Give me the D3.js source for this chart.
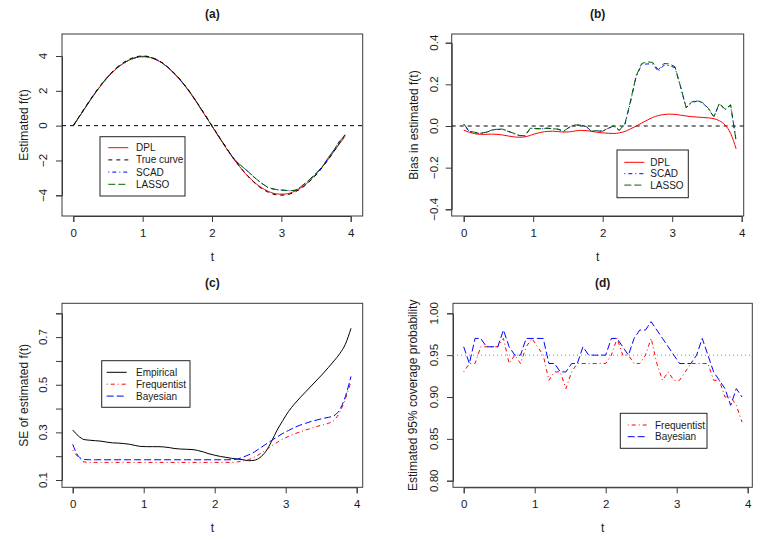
<!DOCTYPE html>
<html>
<head>
<meta charset="utf-8">
<script src="https://cdn.jsdelivr.net/npm/d3@7"></script>
<style>
  html, body { margin: 0; padding: 0; background: #fff; }
  svg { display: block; font-family: "Liberation Sans", Arial, sans-serif; }
</style>
</head>
<body>
<svg id="chart" width="762" height="541"></svg>
<script>
// ---------------- DATA ----------------
const tGrid = [0.00,0.08,0.16,0.24,0.32,0.40,0.48,0.56,0.64,0.72,0.80,0.88,0.96,1.04,1.12,1.20,1.28,1.36,1.44,1.52,
  1.60,1.68,1.76,1.84,1.92,2.00,2.08,2.16,2.24,2.32,2.40,2.48,2.56,2.64,2.72,2.80,2.88,2.96,3.04,3.12,
  3.20,3.28,3.36,3.44,3.52,3.60,3.68,3.76,3.84,3.92];

// Panel (a): estimated f(t)
const trueCurve = [0,0.50,0.99,1.47,1.93,2.35,2.74,3.08,3.38,3.62,3.80,3.93,3.99,3.99,3.93,3.80,3.62,3.38,3.08,2.74,
  2.35,1.93,1.47,0.99,0.50,0.00,-0.50,-0.99,-1.47,-1.93,-2.35,-2.74,-3.08,-3.38,-3.62,-3.80,-3.93,-3.99,-3.99,-3.93,
  -3.80,-3.62,-3.38,-3.08,-2.74,-2.35,-1.93,-1.47,-0.99,-0.50];
const dplFit = [-0.02,0.47,0.95,1.43,1.89,2.31,2.70,3.04,3.33,3.57,3.75,3.88,3.95,3.95,3.90,3.77,3.60,3.35,3.05,2.71,
  2.33,1.91,1.45,0.96,0.47,-0.03,-0.54,-1.03,-1.50,-1.96,-2.36,-2.74,-3.07,-3.35,-3.58,-3.75,-3.88,-3.93,-3.93,-3.88,
  -3.75,-3.57,-3.34,-3.04,-2.70,-2.32,-1.91,-1.47,-1.03,-0.61];
const scadFit = [0.01,0.48,0.96,1.44,1.90,2.33,2.72,3.07,3.36,3.58,3.76,3.88,3.98,3.98,3.92,3.79,3.61,3.36,3.06,2.74,
  2.36,1.94,1.47,0.97,0.48,-0.03,-0.51,-0.99,-1.49,-1.92,-2.23,-2.50,-2.79,-3.08,-3.32,-3.54,-3.64,-3.70,-3.71,-3.74,
  -3.71,-3.51,-3.26,-2.97,-2.66,-2.31,-1.82,-1.39,-0.89,-0.57];
const lassoFit = [0.01,0.48,0.96,1.44,1.90,2.33,2.73,3.07,3.36,3.58,3.76,3.88,3.98,3.98,3.92,3.79,3.61,3.36,3.06,2.74,
  2.36,1.94,1.47,0.97,0.48,-0.03,-0.51,-0.99,-1.49,-1.92,-2.23,-2.50,-2.78,-3.07,-3.32,-3.53,-3.63,-3.69,-3.71,-3.74,
  -3.71,-3.51,-3.26,-2.97,-2.66,-2.31,-1.82,-1.39,-0.89,-0.57];

// Panel (b): bias
const dplBias = [-0.020,-0.030,-0.037,-0.040,-0.040,-0.039,-0.040,-0.043,-0.048,-0.052,-0.054,-0.052,-0.045,-0.036,-0.030,
  -0.026,-0.025,-0.027,-0.029,-0.028,-0.024,-0.021,-0.022,-0.026,-0.030,-0.033,-0.035,-0.036,-0.033,-0.026,
  -0.014,-0.001,0.014,0.028,0.041,0.050,0.055,0.057,0.056,0.052,0.048,0.045,0.043,0.041,0.039,0.035,0.025,0.005,-0.035,-0.110];
const scadBias = [0.008,-0.027,-0.032,-0.036,-0.031,-0.021,-0.016,-0.016,-0.026,-0.036,-0.046,-0.048,-0.011,-0.013,-0.014,
  -0.011,-0.014,-0.016,-0.026,-0.006,0.004,0.004,-0.003,-0.026,-0.023,-0.026,-0.011,-0.001,-0.021,0.008,
  0.115,0.235,0.295,0.298,0.298,0.262,0.292,0.290,0.280,0.188,0.088,0.112,0.120,0.110,0.083,0.043,0.108,0.078,0.100,-0.072];
const lassoBias = [0.010,-0.025,-0.030,-0.035,-0.030,-0.020,-0.015,-0.015,-0.025,-0.035,-0.045,-0.047,-0.010,-0.012,-0.013,
  -0.010,-0.013,-0.015,-0.025,-0.005,0.005,0.005,-0.002,-0.025,-0.022,-0.025,-0.010,0.000,-0.020,0.010,
  0.120,0.240,0.300,0.308,0.305,0.270,0.300,0.298,0.285,0.190,0.090,0.115,0.122,0.112,0.085,0.045,0.110,0.080,0.102,-0.070];

// Panel (c): standard errors
const seEmpirical = [0.310,0.285,0.270,0.267,0.265,0.263,0.259,0.256,0.255,0.253,0.250,0.245,0.241,0.240,0.240,
  0.240,0.239,0.236,0.232,0.230,0.229,0.228,0.224,0.218,0.210,0.204,0.199,0.195,0.191,0.188,
  0.185,0.181,0.183,0.195,0.220,0.262,0.310,0.350,0.388,0.418,0.445,0.470,0.495,0.520,0.545,0.572,0.600,0.630,0.670,0.737];
const seFrequentist = [0.225,0.195,0.176,0.174,0.174,0.174,0.174,0.174,0.174,0.174,0.174,0.174,0.174,0.174,0.174,
  0.174,0.174,0.174,0.174,0.174,0.174,0.174,0.174,0.174,0.174,0.174,0.174,0.174,0.174,0.176,
  0.180,0.186,0.196,0.210,0.226,0.243,0.258,0.272,0.283,0.293,0.302,0.310,0.317,0.325,0.331,0.338,0.350,0.385,0.440,0.515];
const seBayesian = [0.250,0.200,0.186,0.185,0.185,0.185,0.185,0.185,0.185,0.185,0.185,0.185,0.185,0.185,0.185,
  0.185,0.185,0.185,0.185,0.185,0.185,0.185,0.185,0.185,0.185,0.185,0.185,0.185,0.185,0.188,
  0.196,0.206,0.218,0.234,0.250,0.266,0.281,0.296,0.308,0.320,0.330,0.338,0.346,0.352,0.358,0.363,0.370,0.395,0.450,0.535];

// Panel (d): coverage
const covFrequentist = [0.93,0.94,0.94,0.96,0.96,0.96,0.96,0.97,0.94,0.95,0.94,0.96,0.97,0.96,0.95,0.92,0.93,0.93,0.91,0.93,
  0.94,0.94,0.94,0.94,0.94,0.94,0.95,0.97,0.95,0.95,0.94,0.94,0.95,0.97,0.94,0.92,0.93,0.92,0.92,0.93,
  0.94,0.94,0.94,0.94,0.92,0.92,0.90,0.90,0.89,0.87];
const covBayesian = [0.96,0.94,0.97,0.97,0.96,0.96,0.96,0.98,0.96,0.95,0.95,0.97,0.97,0.97,0.97,0.94,0.94,0.93,0.93,0.94,
  0.94,0.96,0.95,0.95,0.95,0.95,0.97,0.97,0.96,0.95,0.97,0.98,0.98,0.99,0.98,0.97,0.96,0.95,0.94,0.94,
  0.94,0.95,0.97,0.95,0.93,0.92,0.91,0.89,0.91,0.90];

const ticksA = [-4,-2,0,2,4];
const ticksB = [-0.4,-0.2,0.0,0.2,0.4];
const ticksC = [0.1,0.2,0.3,0.4,0.5,0.6,0.7,0.8];
const labelsC = [0.1,0.3,0.5,0.7];
const ticksD = [0.80,0.85,0.90,0.95,1.00];
const ticksX = [0,1,2,3,4];

// ---------------- DRAWING ----------------
const svg = d3.select("#chart");
const FONT = 11.5;
const LEGFONT = 10;
const TXT = "#1a1a1a";
const AX = "#3a3a3a";

const dashes = { solid: null, dashed: "4,4", dotdash: "1,3,4,3", longdash: "7,3", dotted: "1,3" };

function panel(cfg) {
  const g = svg.append("g");
  const [L, T, R, B] = cfg.box;
  const x = d3.scaleLinear().domain([0, 4]).range([cfg.x0, cfg.x4]);
  const y = d3.scaleLinear().domain(cfg.yDom).range(cfg.yRange);

  const cid = "clip" + cfg.id;
  svg.append("clipPath").attr("id", cid).append("rect")
    .attr("x", L).attr("y", T).attr("width", R - L).attr("height", B - T);

  const xa = d3.axisBottom(x).tickValues(ticksX).tickFormat(d3.format("d")).tickSize(6).tickPadding(3);
  const gx = g.append("g").attr("transform", `translate(0,${B})`).call(xa);
  gx.select(".domain").attr("stroke", AX);
  gx.selectAll(".tick line").attr("stroke", AX);
  gx.selectAll("text").attr("font-size", FONT).attr("fill", TXT).attr("font-family", "Liberation Sans, Arial, sans-serif")
    .attr("dy", null).attr("y", 21);

  const ya = d3.axisLeft(y).tickValues(cfg.yTicks).tickSize(6).tickFormat("");
  const gy = g.append("g").attr("transform", `translate(${L},0)`).call(ya);
  gy.select(".domain").attr("stroke", AX);
  gy.selectAll(".tick line").attr("stroke", AX);

  g.selectAll(".ylab").data(cfg.yLabels).join("text")
    .attr("transform", d => `translate(${L - cfg.yLabOff},${y(d)}) rotate(-90)`)
    .attr("text-anchor", "middle").attr("dy", "0.35em")
    .attr("font-size", FONT).attr("fill", TXT)
    .text(d => cfg.fmt(d));

  g.append("rect").attr("x", L).attr("y", T).attr("width", R - L).attr("height", B - T)
    .attr("fill", "none").attr("stroke", AX).attr("stroke-width", 1);

  g.append("text").attr("x", (L + R) / 2).attr("y", T - 16).attr("text-anchor", "middle")
    .attr("font-size", 12).attr("font-weight", "bold").attr("fill", TXT).text(cfg.title);
  g.append("text").attr("x", (L + R) / 2).attr("y", B + 45).attr("text-anchor", "middle")
    .attr("font-size", FONT + 0.5).attr("fill", TXT).text("t");
  g.append("text")
    .attr("transform", `translate(${L - cfg.yTitleOff},${(T + B) / 2}) rotate(-90)`)
    .attr("text-anchor", "middle").attr("dy", "0.35em")
    .attr("font-size", FONT + 0.5).attr("fill", TXT).text(cfg.yTitle);

  const plot = g.append("g").attr("clip-path", `url(#${cid})`);

  if (cfg.ref) {
    plot.append("line").attr("x1", L).attr("x2", R).attr("y1", y(cfg.ref.v)).attr("y2", y(cfg.ref.v))
      .attr("stroke", cfg.ref.color).attr("stroke-width", 1).attr("stroke-dasharray", dashes[cfg.ref.dash]);
  }

  const line = d3.line().x((d, i) => x(tGrid[i])).y(d => y(d));
  const curveLine = d3.line().x((d, i) => x(tGrid[i])).y(d => y(d)).curve(d3.curveMonotoneX);
  cfg.series.forEach(s => {
    plot.append("path").datum(s.values)
      .attr("d", s.smooth ? curveLine : line)
      .attr("fill", "none").attr("stroke", s.color).attr("stroke-width", s.width || 1)
      .attr("stroke-dasharray", dashes[s.dash]);
  });

  const lg = cfg.legend;
  g.append("rect").attr("x", lg.x).attr("y", lg.y).attr("width", lg.w).attr("height", lg.h)
    .attr("fill", "#fff").attr("stroke", "#222").attr("stroke-width", 1);
  lg.items.forEach((s, i) => {
    const yy = lg.y + lg.first + i * lg.step;
    g.append("line").attr("x1", lg.x + lg.seg0).attr("x2", lg.x + lg.seg1).attr("y1", yy).attr("y2", yy)
      .attr("stroke", s.color).attr("stroke-width", 1).attr("stroke-dasharray", dashes[s.dash]);
    g.append("text").attr("x", lg.x + lg.text).attr("y", yy).attr("dy", "0.35em")
      .attr("font-size", LEGFONT).attr("fill", TXT).text(s.label);
  });
}

const fmt0 = d3.format("d");
const fmt1 = d3.format(".1f");
const fmt2 = d3.format(".2f");

const sDPL = { label: "DPL", color: "#ff0000", dash: "solid" };
const sTrue = { label: "True curve", color: "#000", dash: "dashed" };
const sSCAD = { label: "SCAD", color: "#0000ff", dash: "dotdash" };
const sLASSO = { label: "LASSO", color: "#006400", dash: "longdash" };
const sEmp = { label: "Empirical", color: "#000", dash: "solid" };
const sFreq = { label: "Frequentist", color: "#ff0000", dash: "dotdash" };
const sBay = { label: "Bayesian", color: "#0000ff", dash: "longdash" };

panel({
  id: "a", title: "(a)", box: [62, 34, 362.7, 216], x0: 73.3, x4: 350.7,
  yDom: [-4, 4], yRange: [195.3, 56], yTicks: ticksA, yLabels: ticksA, fmt: fmt0,
  yLabOff: 18.7, yTitleOff: 38.7, yTitle: "Estimated f(t)",
  ref: { v: 0, color: "#000", dash: "dashed" },
  series: [
    { ...sDPL, values: dplFit, smooth: true },
    { ...sSCAD, values: scadFit },
    { ...sLASSO, values: lassoFit },
    { ...sTrue, values: trueCurve, smooth: true }
  ],
  legend: { x: 100, y: 136.7, w: 85, h: 59.3, first: 11, step: 12.2, seg0: 8.3, seg1: 28.3, text: 36,
    items: [sDPL, sTrue, sSCAD, sLASSO] }
});

panel({
  id: "b", title: "(b)", box: [451.7, 34, 743.7, 216], x0: 463.7, x4: 741.7,
  yDom: [-0.4, 0.4], yRange: [209.3, 42.7], yTicks: ticksB, yLabels: ticksB, fmt: fmt1,
  yLabOff: 17.4, yTitleOff: 37.7, yTitle: "Bias in estimated f(t)",
  ref: { v: 0, color: "#000", dash: "dashed" },
  series: [
    { ...sDPL, values: dplBias, smooth: true },
    { ...sSCAD, values: scadBias },
    { ...sLASSO, values: lassoBias }
  ],
  legend: { x: 617, y: 150, w: 71.3, h: 47.7, first: 12.3, step: 11.4, seg0: 7.3, seg1: 27.3, text: 33.3,
    items: [sDPL, sSCAD, sLASSO] }
});

panel({
  id: "c", title: "(c)", box: [62, 303.3, 362.7, 487.3], x0: 72.7, x4: 356.7,
  yDom: [0.1, 0.8], yRange: [480, 313.3], yTicks: ticksC, yLabels: labelsC, fmt: fmt1,
  yLabOff: 18.7, yTitleOff: 38.7, yTitle: "SE of estimated f(t)",
  ref: null,
  series: [
    { ...sEmp, values: seEmpirical, smooth: true },
    { ...sFreq, values: seFrequentist, smooth: true },
    { ...sBay, values: seBayesian, smooth: true }
  ],
  legend: { x: 101.7, y: 360.7, w: 88.3, h: 46.6, first: 11.6, step: 11.9, seg0: 5, seg1: 25, text: 34.3,
    items: [sEmp, sFreq, sBay] }
});

panel({
  id: "d", title: "(d)", box: [453, 303.3, 752.3, 487.3], x0: 463.7, x4: 747.7,
  yDom: [0.80, 1.00], yRange: [480.7, 313.3], yTicks: ticksD, yLabels: ticksD, fmt: fmt2,
  yLabOff: 18.7, yTitleOff: 40.3, yTitle: "Estimated 95% coverage probability",
  ref: { v: 0.95, color: "#888", dash: "dotted" },
  series: [
    { ...sFreq, values: covFrequentist },
    { ...sBay, values: covBayesian }
  ],
  legend: { x: 620.3, y: 413.3, w: 86.7, h: 35, first: 11.7, step: 11.7, seg0: 7.4, seg1: 27.4, text: 34.7,
    items: [sFreq, sBay] }
});
</script>
</body>
</html>
